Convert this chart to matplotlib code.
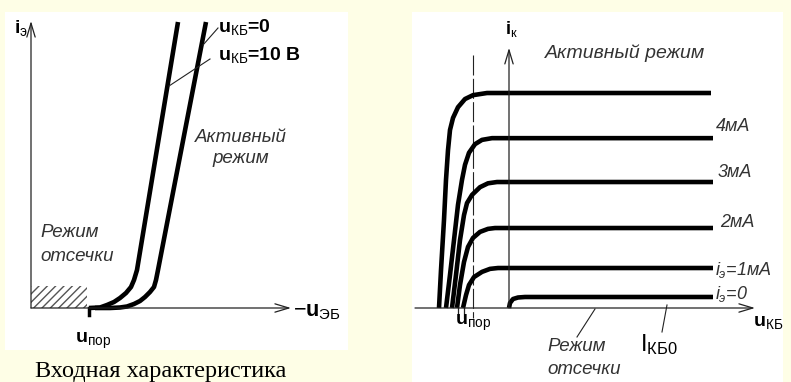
import matplotlib
matplotlib.use("Agg")
import matplotlib.pyplot as plt
from matplotlib.patches import Rectangle

plt.rcParams['font.family'] = ['Liberation Sans', 'DejaVu Sans']
plt.rcParams['mathtext.fontset'] = 'custom'
plt.rcParams['mathtext.rm'] = 'Liberation Sans'
plt.rcParams['mathtext.it'] = 'Liberation Sans:italic'
plt.rcParams['mathtext.bf'] = 'Liberation Sans:bold'
plt.rcParams['hatch.linewidth'] = 1.0

# ---------------- data: input characteristic (left) ----------------
# u_EB in V, i_E in mA
in_u_kb0 = [0.256, 0.316, 0.356, 0.384, 0.412, 0.436, 0.456, 0.476, 0.492, 0.500, 0.508, 0.700]
in_i_kb0 = [0.0, 0.0, 0.025, 0.075, 0.20, 0.35, 0.55, 0.80, 1.05, 1.40, 1.90, 14.3]
in_u_kb10 = [0.232, 0.276, 0.304, 0.332, 0.356, 0.380, 0.400, 0.412, 0.424, 0.588]
in_i_kb10 = [0.0, 0.025, 0.15, 0.30, 0.50, 0.75, 1.05, 1.40, 1.90, 14.3]
u_por_in = 0.232
cutoff_box = (0.224, 1.1)   # width (V), height (mA) of hatched cut-off zone

# ---------------- data: output characteristics (right) ----------------
# u_KB in V, i_K in mA
out_curves = {
    "5мА": ([-3.5, -3.4, -3.25, -3.15, -3.05, -2.95, -2.8, -2.55, -2.2, -1.8, -1.1, 10.1],
            [0.0, 0.88, 2.05, 2.98, 3.67, 4.14, 4.42, 4.67, 4.86, 4.95, 5.0, 5.0]),
    "4мА": ([-3.15, -2.95, -2.75, -2.55, -2.35, -2.2, -2.0, -1.7, -1.35, -0.85, 10.2],
            [0.0, 0.77, 1.58, 2.40, 2.98, 3.33, 3.61, 3.81, 3.91, 3.95, 3.95]),
    "3мА": ([-2.85, -2.65, -2.45, -2.25, -2.1, -1.85, -1.45, -1.05, -0.6, 10.2],
            [0.0, 0.77, 1.58, 2.16, 2.44, 2.63, 2.81, 2.90, 2.93, 2.93]),
    "2мА": ([-2.6, -2.45, -2.25, -2.05, -1.8, -1.45, -1.05, -0.7, 10.2],
            [0.0, 0.535, 1.07, 1.42, 1.63, 1.77, 1.84, 1.86, 1.86]),
    "1мА": ([-2.3, -2.15, -2.0, -1.75, -1.35, -0.95, -0.55, 10.2],
            [0.0, 0.30, 0.535, 0.72, 0.84, 0.91, 0.93, 0.93]),
    "0": ([0.0, 0.05, 0.2, 0.45, 0.8, 10.2],
          [0.0, 0.116, 0.209, 0.244, 0.256, 0.256]),
}
u_por_out = -1.8

W, H = 791, 382
fig = plt.figure(figsize=(W / 100, H / 100), dpi=100)
fig.patch.set_facecolor('#fefee6')


def px_axes(x0, y0, x1, y1):
    ax = fig.add_axes([x0 / W, 1 - y1 / H, (x1 - x0) / W, (y1 - y0) / H])
    ax.set_facecolor('white')
    ax.set_xticks([])
    ax.set_yticks([])
    for s in ax.spines.values():
        s.set_visible(False)
    return ax


ARROW = dict(arrowstyle='->,head_length=1.0,head_width=0.3', lw=0.9, color='#222222',
             shrinkA=0, shrinkB=0)
CURVE = dict(color='black', lw=3.3, solid_capstyle='butt', solid_joinstyle='round')
ITAL = dict(style='italic', color='#333333')

# ================= left panel =================
axl = px_axes(5, 12, 348, 350)
axl.set_xlim(-0.104, 1.268)
axl.set_ylim(-2.1, 14.8)

axl.annotate('', xy=(0, 14.35), xytext=(0, 0), arrowprops=ARROW)
axl.annotate('', xy=(1.04, 0), xytext=(0, 0), arrowprops=ARROW)
axl.add_patch(Rectangle((0, 0), cutoff_box[0], cutoff_box[1], hatch='////', fill=False,
                        edgecolor='#555555', lw=0))
axl.plot([u_por_in, u_por_in], [0, -0.35], color='black', lw=2.5)
axl.plot(in_u_kb0, in_i_kb0, **CURVE)
axl.plot(in_u_kb10, in_i_kb10, **CURVE)
# leader lines
axl.plot([0.748, 0.688], [14.0, 13.15], color='#222222', lw=0.8)
axl.plot([0.716, 0.552], [12.45, 11.1], color='#222222', lw=0.8)

axl.text(-0.068, 14.0, r'i$_{\mathrm{э}}$', fontsize=14, fontweight='bold', va='center', ha='left')
axl.text(0.748, 13.8, r'$\mathbf{u}_{\mathrm{КБ}}$=0', fontsize=14, fontweight='bold',
         va='baseline', ha='left')
axl.text(0.748, 12.4, r'$\mathbf{u}_{\mathrm{КБ}}$=10 В', fontsize=14, fontweight='bold',
         va='baseline', ha='left')
axl.text(0.656, 8.3, 'Активный', fontsize=13.5, va='baseline', **ITAL)
axl.text(0.724, 7.25, 'режим', fontsize=13.5, va='baseline', **ITAL)
axl.text(0.036, 3.55, 'Режим', fontsize=13.5, va='baseline', **ITAL)
axl.text(0.036, 2.35, 'отсечки', fontsize=13.5, va='baseline', **ITAL)
axl.text(1.048, -0.15, r'$-\mathbf{u}_{\mathrm{ЭБ}}$', fontsize=15.5, va='center', ha='left')
axl.text(0.176, -1.65, r'$\mathbf{u}_{\mathrm{пор}}$', fontsize=14, va='center', ha='left')

fig.text(35 / W, (H - 377) / H, 'Входная характеристика', fontsize=17.5,
         family='Liberation Serif', va='baseline', ha='left')

# ================= right panel =================
axr = px_axes(412, 12, 783, 382)
axr.set_xlim(-4.85, 13.7)
axr.set_ylim(-1.721, 6.884)

axr.annotate('', xy=(0, 6.05), xytext=(0, 0), arrowprops=ARROW)
axr.annotate('', xy=(12.3, 0), xytext=(-4.7, 0), arrowprops=ARROW)
axr.plot([u_por_out, u_por_out], [5.88, -0.233], color='#222222', lw=0.8, dashes=[18, 3])
axr.plot([-2.55, -2.55], [0, -0.23], color='#222222', lw=0.9)
axr.plot([-2.25, -2.25], [0, -0.23], color='#222222', lw=0.9)
for name, (u, i) in out_curves.items():
    axr.plot(u, i, **CURVE)
axr.plot([4.3, 3.4], [-0.023, -0.674], color='#222222', lw=0.8)
axr.plot([7.9, 7.65], [0.07, -0.558], color='#222222', lw=0.8)

axr.text(-0.2, 6.49, r'i$_{\mathrm{к}}$', fontsize=13, fontweight='bold', va='center', ha='left')
axr.text(1.8, 5.81, 'Активный режим', fontsize=14, va='baseline', **ITAL)
lab_style = dict(fontsize=13, va='center', ha='left', **ITAL)
axr.text(10.35, 4.23, '4мА', **lab_style)
axr.text(10.45, 3.14, '3мА', **lab_style)
axr.text(10.55, 1.98, '2мА', **lab_style)
axr.text(10.3, 0.884, r'$\mathit{i}_{\mathit{э}}$=1мА', **lab_style)
axr.text(10.3, 0.326, r'$\mathit{i}_{\mathit{э}}$=0', **lab_style)
axr.text(12.2, -0.326, r'$\mathbf{u}_{\mathrm{КБ}}$', fontsize=14, va='center', ha='left')
axr.text(-2.7, -0.35, r'$\mathbf{u}_{\mathrm{пор}}$', fontsize=14, va='center', ha='left')
axr.text(1.9, -0.907, 'Режим', fontsize=13.5, va='center', **ITAL)
axr.text(1.9, -1.44, 'отсечки', fontsize=13.5, va='center', **ITAL)
axr.text(6.55, -0.86, r'I$_{\mathrm{КБ0}}$', fontsize=17, va='center', ha='left')

fig.savefig('out.png', dpi=100, facecolor=fig.get_facecolor())
